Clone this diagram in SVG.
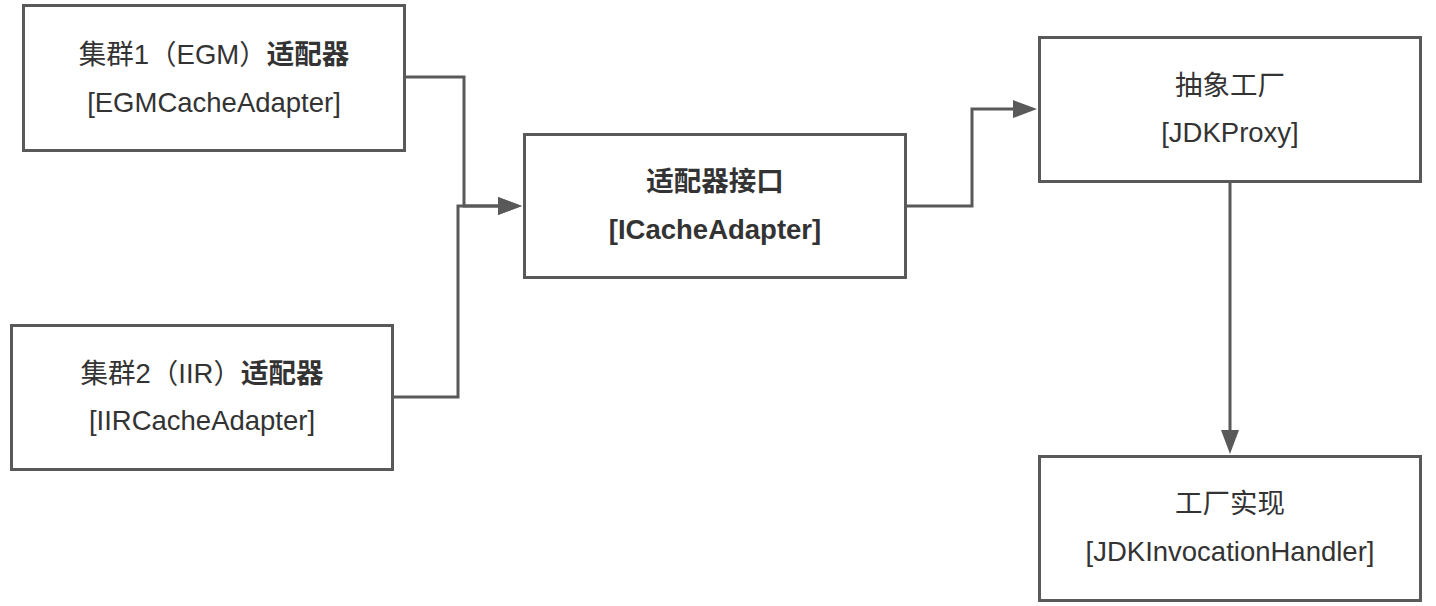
<svg xmlns="http://www.w3.org/2000/svg" width="1436" height="606" viewBox="0 0 1436 606">
<style>
.box{fill:#ffffff;stroke:#595959;stroke-width:3}
.t{font-family:"Liberation Sans","Noto Sans CJK SC",sans-serif;font-size:27.5px;fill:#333333;text-anchor:middle}
.b{font-weight:bold}
.c{fill:none;stroke:#595959;stroke-width:3}
</style>
<defs>
<marker id="arr" markerUnits="userSpaceOnUse" markerWidth="24" markerHeight="18" refX="0" refY="9" orient="auto" viewBox="0 0 24 18">
<path d="M0,0 L24,9 L0,18 Z" fill="#595959"/>
</marker>
</defs>
<rect width="1436" height="606" fill="#ffffff"/>
<g id="connectors">
<path class="c" d="M404,77 H464 V206 H498" marker-end="url(#arr)"/>
<path class="c" d="M392,397 H458 V206 H498" marker-end="url(#arr)"/>
<path class="c" d="M906,206 H972 V109 H1013" marker-end="url(#arr)"/>
<path class="c" d="M1230,182 V430" marker-end="url(#arr)"/>
</g>
<g id="egm">
<rect class="box" x="23.5" y="5.5" width="381" height="145"/>
<text class="t" x="214" y="64">集群1（EGM）<tspan class="b">适配器</tspan></text>
<text class="t" x="214" y="112">[EGMCacheAdapter]</text>
</g>
<g id="iir">
<rect class="box" x="11.5" y="325.5" width="381" height="144"/>
<text class="t" x="202" y="383">集群2（IIR）<tspan class="b">适配器</tspan></text>
<text class="t" x="202" y="430">[IIRCacheAdapter]</text>
</g>
<g id="icache">
<rect class="box" x="524.5" y="134.5" width="381" height="143"/>
<text class="t b" x="715" y="191">适配器接口</text>
<text class="t b" x="715" y="239">[ICacheAdapter]</text>
</g>
<g id="jdkproxy">
<rect class="box" x="1039.5" y="37.5" width="381" height="144"/>
<text class="t" x="1230" y="95">抽象工厂</text>
<text class="t" x="1230" y="142">[JDKProxy]</text>
</g>
<g id="handler">
<rect class="box" x="1039.5" y="456.5" width="381" height="144"/>
<text class="t" x="1230" y="513">工厂实现</text>
<text class="t" x="1230" y="561">[JDKInvocationHandler]</text>
</g>
</svg>
